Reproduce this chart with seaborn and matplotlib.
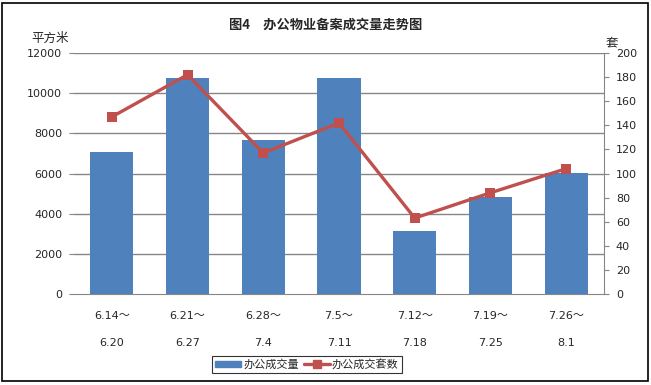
import matplotlib
matplotlib.use("Agg")
import matplotlib.pyplot as plt
import seaborn as sns
import pandas as pd
import numpy as np
from matplotlib.patches import Rectangle, Patch
from matplotlib.lines import Line2D

sns.set_style("white")
plt.rcParams['font.family'] = ['Noto Sans CJK SC', 'DejaVu Sans']
NUMFONT = ['DejaVu Sans', 'Noto Sans CJK SC']

categories = ["6.14～6.20", "6.21～6.27", "6.28～7.4", "7.5～7.11", "7.12～7.18", "7.19～7.25", "7.26～8.1"]
tick_labels = ["6.14～\n\n6.20", "6.21～\n\n6.27", "6.28～\n\n7.4", "7.5～\n\n7.11",
               "7.12～\n\n7.18", "7.19～\n\n7.25", "7.26～\n\n8.1"]
area = [7080, 10760, 7670, 10760, 3140, 4830, 6010]
units = [147, 182, 117, 142, 63, 84, 104]

df = pd.DataFrame({"period": categories, "area": area, "units": units})

BLUE = "#4F81BD"
RED = "#C0504D"
GRID = "#868686"
POS = [74/651, 1-294/385, (604-74)/651, (294-53)/385]

fig = plt.figure(figsize=(6.51, 3.85), dpi=100)

# background axes holding only the horizontal gridlines
axg = fig.add_axes(POS, zorder=-1)
axg.set_ylim(0, 12000)
axg.set_yticks(np.arange(0, 12001, 2000))
for yv in axg.get_yticks()[1:]:
    axg.axhline(yv, color=GRID, linewidth=1)
axg.axis("off")

ax = fig.add_axes(POS, zorder=1)
ax.patch.set_visible(False)
sns.barplot(data=df, x="period", y="area", color=BLUE, width=0.57, saturation=1,
            ax=ax, edgecolor=BLUE, linewidth=0)
ax.set_ylim(0, 12000)
ax.set_xlim(-0.5, len(categories)-0.5)
ax.set_yticks(np.arange(0, 12001, 2000))
ax.grid(False)
ax.set_xlabel("")
ax.set_ylabel("")
ax.set_xticks(range(len(categories)))
ax.set_xticklabels(tick_labels, fontsize=8, linespacing=1.45, family=NUMFONT)
ax.tick_params(axis='x', length=0, pad=12)
ax.tick_params(axis='y', length=3.5, color=GRID, pad=5, direction='out')
for lab in ax.get_yticklabels():
    lab.set_family(NUMFONT)
    lab.set_fontsize(8)
for s in ["top", "left", "right"]:
    ax.spines[s].set_visible(False)
ax.spines["bottom"].set_color(GRID)

ax2 = ax.twinx()
ax2.set_zorder(2)
ax2.patch.set_visible(False)
sns.lineplot(data=df, x="period", y="units", color=RED, marker="s", linestyle="-",
             ax=ax2, markersize=7, linewidth=2.4, markeredgewidth=0, sort=False)
ax2.set_ylim(0, 200)
ax2.set_xlim(-0.5, len(categories)-0.5)
ax2.set_yticks(np.arange(0, 201, 20))
ax2.set_ylabel("")
ax2.set_xlabel("")
ax2.grid(False)
ax2.tick_params(axis='y', length=3.5, color=GRID, pad=5, direction='out')
for lab in ax2.get_yticklabels():
    lab.set_family(NUMFONT)
    lab.set_fontsize(8)
for s in ["top", "left", "bottom"]:
    ax2.spines[s].set_visible(False)
ax2.spines["right"].set_color(GRID)

fig.text(326/651, 1-25/385, "图4　办公物业备案成交量走势图", ha="center", va="center",
         fontsize=9.5, fontweight="bold")
fig.text(50/651, 1-38/385, "平方米", ha="center", va="center", fontsize=9)
fig.text(612/651, 1-43/385, "套", ha="center", va="center", fontsize=9)

handles = [Patch(facecolor=BLUE, edgecolor=BLUE),
           Line2D([0], [0], color=RED, linewidth=2.4, marker="s", markersize=6)]
leg = fig.legend(handles, ["办公成交量", "办公成交套数"], loc="center",
                 bbox_to_anchor=(307/651, 1-364.5/385), ncol=2, fontsize=8,
                 frameon=True, fancybox=False, handlelength=2.3, handleheight=0.5,
                 handletextpad=0.2, columnspacing=0.5, borderpad=0.25)
leg.get_frame().set_edgecolor("black")
leg.get_frame().set_linewidth(0.8)

fig.patches.append(Rectangle((2/651, 4/385), 646/651, 378/385, transform=fig.transFigure,
                             fill=False, edgecolor="black", linewidth=1.2))

fig.savefig("out.png", dpi=100)
